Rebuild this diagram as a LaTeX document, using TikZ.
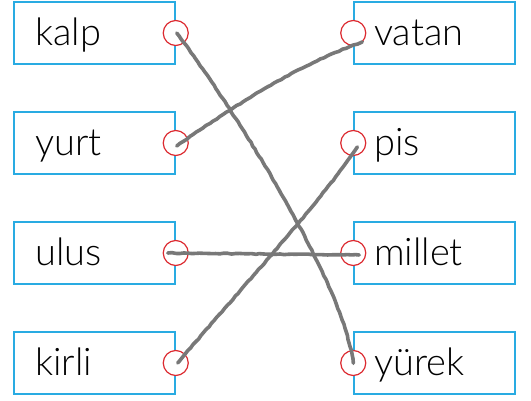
\documentclass[tikz,border=0pt]{standalone}
\usepackage{fontspec}
\setmainfont{Lato Light}
\usetikzlibrary{decorations.pathmorphing}
\definecolor{boxblue}{HTML}{29ABE2}
\definecolor{ringred}{HTML}{DC2A30}
\definecolor{pengray}{HTML}{787878}
\tikzset{
  wordbox/.style={draw=boxblue, line width=1.5pt, minimum width=161pt, minimum height=62pt, inner sep=0pt},
  ring/.style={circle, draw=ringred, fill=white, line width=1.2pt, minimum size=25pt, inner sep=0pt},
  word/.style={anchor=base west, inner sep=0pt, font=\fontsize{38}{40}\selectfont},
  match/.style={draw=pengray, line width=3.6pt, line cap=round, line join=round,
    decorate, decoration={random steps, segment length=4pt, amplitude=0.4pt}}
}
\begin{document}
\begin{tikzpicture}[x=1pt, y=-1pt]
    \pgfmathsetseed{7}
    \useasboundingbox (0,0) rectangle (531,400);
    % left column
    \foreach \name/\y in {kalp/33, yurt/143, ulus/253, kirli/363} {
        \node[wordbox] (\name) at (94.5,\y) {};
        \node[word] (\name text) at (35,\y+12) {\name};
        \node[ring] (\name ring) at (\name.east) {};
    }
    % right column
    \foreach \name/\label/\y in {vatan/vatan/33, pis/pis/143, millet/millet/253, yurek/yürek/363} {
        \node[wordbox] (\name) at (434.5,\y) {};
        \node[word] (\name text) at (374,\y+12) {\label};
        \node[ring] (\name ring) at (\name.west) {};
    }
    % matches
    \draw[match] ([xshift=1pt]kalpring.center) .. controls +(60,80) and +(-10,-80) .. (yurekring.center);
    \draw[match] ([xshift=1pt,yshift=-3pt]yurtring.center) .. controls +(50,-35) and +(-70,25) .. ([xshift=9pt,yshift=-9pt]vatanring.center);
    \draw[match] ([xshift=-8pt]ulusring.center) -- ([xshift=6pt,yshift=-2pt]milletring.center);
    \draw[match] ([xshift=2pt]kirliring.center) .. controls +(50,-60) and +(-40,60) .. ([xshift=4pt,yshift=-4pt]pisring.center);
\end{tikzpicture}
\end{document}
